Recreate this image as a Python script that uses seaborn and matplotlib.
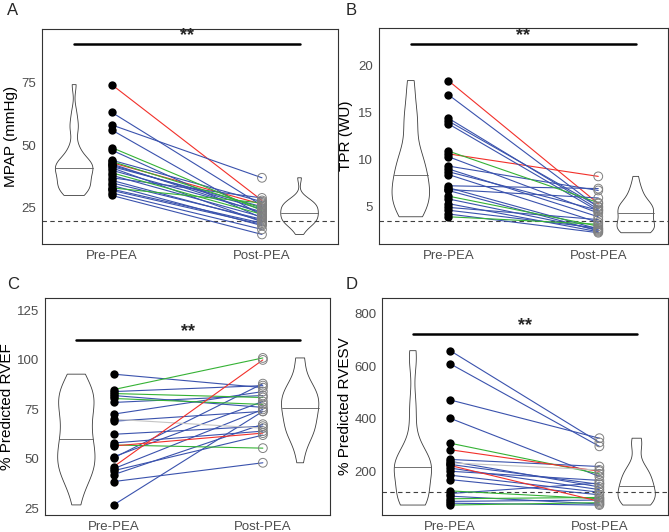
import numpy as np
import pandas as pd
import seaborn as sns
import matplotlib.pyplot as plt

sns.set_style("white")
plt.rcParams["font.family"] = ["Liberation Sans", "DejaVu Sans"]

phases = ["Pre-PEA", "Post-PEA"]

# A: MPAP (mmHg)
mpap_pre = [74, 63, 58, 56, 49, 48, 44, 43.5, 43, 42.5, 42, 41.5, 41, 40, 39, 38, 37, 36, 35, 34, 33, 32.5, 32, 31, 30]
mpap_post = [28, 26, 37, 22, 24, 21, 27.5, 25, 26.5, 23, 24.5, 25.5, 19.5, 23.5, 22.5, 21.5, 29, 20, 20.5, 18, 27, 19, 18.5, 16.5, 14.5]
mpap_grp = ["2", "1", "1", "1", "3", "1", "1", "3", "2", "1", "1", "1", "1", "1", "3", "1", "1", "1", "1", "1", "3", "1", "1", "1", "1"]

# B: TPR (WU)
tpr_pre = [18.4, 16.9, 14.4, 14.1, 13.8, 10.9, 10.6, 10.3, 9.3, 9.0, 8.7, 8.4, 7.2, 7.0, 6.8, 6.7, 6.1, 5.8, 5.3, 4.9, 4.6, 4.2, 3.9]
tpr_post = [5.3, 4.9, 4.7, 5.0, 4.5, 5.4, 8.2, 4.3, 6.7, 3.9, 4.6, 3.3, 6.9, 2.6, 5.9, 2.4, 2.9, 2.5, 2.3, 3.6, 2.7, 2.2, 3.1]
tpr_grp = ["2", "1", "1", "1", "1", "3", "2", "1", "1", "1", "1", "1", "1", "1", "1", "1", "3", "1", "1", "1", "1", "1", "3"]

# C: % predicted RVEF
rvef_pre = [92.8, 85, 84, 83, 82, 80.5, 78.5, 72.6, 70, 69, 62.4, 58, 57, 56.5, 51, 50.5, 46, 45, 44, 42, 38.5, 26.7]
rvef_post = [86, 101, 87, 81, 76, 77.5, 82, 84, 65.5, 74, 66.5, 64, 55.4, 63, 79, 88, 100, 75, 62, 67.5, 48, 74]
rvef_grp = ["1", "3", "1", "3", "1", "3", "1", "1", "4", "1", "1", "1", "3", "2", "1", "1", "2", "1", "1", "1", "1", "1"]

# D: % predicted RVESV
rvesv_pre = [660, 610, 472, 402, 307, 282, 245, 238, 232, 226, 222, 212, 200, 185, 168, 125, 115, 105, 95, 85, 78, 71]
rvesv_post = [310, 295, 326, 180, 190, 200, 218, 140, 205, 150, 85, 130, 165, 120, 110, 95, 155, 75, 100, 90, 71, 80]
rvesv_grp = ["1", "1", "1", "1", "3", "2", "1", "1", "4", "1", "2", "1", "1", "1", "1", "3", "1", "1", "3", "1", "1", "3"]

ylabels = ["MPAP (mmHg)", "TPR (WU)", "% Predicted RVEF", "% Predicted RVESV"]
letters = ["A", "B", "C", "D"]
yticks = [[25, 50, 75], [5, 10, 15, 20], [25, 50, 75, 100, 125], [200, 400, 600, 800]]
thresholds = [20, 3.5, None, 120]
sig_levels = [90, 22.3, 110, 725]

pal = {"1": "#3a52ad", "2": "#f2302a", "3": "#35b235", "4": "#c4c4c4"}
xpos = {"Pre-PEA": 1, "Post-PEA": 2}
vpos = {"Pre-PEA": 0.75, "Post-PEA": 2.25}

W, H = 669, 532
# panel boxes in pixels: left, top, right, bottom
boxes = [(42, 29, 338, 244), (379, 28, 668, 244), (45, 298, 330, 515), (382, 298, 668, 515)]
ylims = [(10.7, 96.1), (1.0, 24), (21.6, 131.3), (33, 861)]
xlims = [(0.536, 2.506), (0.538, 2.465), (0.54, 2.45), (0.543, 2.46)]
letter_xy = [(7, 3), (346, 3), (7, 277), (346, 277)]
ylab_x = [-0.081, -0.09, -0.110, -0.104]
label_pad = [1.5, 1.5, 1.0, 1.0]


def long_table(pre, post, grp):
    n = len(pre)
    df = pd.DataFrame({
        "id": list(range(n)) * 2,
        "phase": [phases[0]] * n + [phases[1]] * n,
        "value": list(pre) + list(post),
        "group": list(grp) * 2,
    })
    df["xpos"] = df["phase"].map(xpos)
    df["vpos"] = df["phase"].map(vpos)
    return df


def nrd0_factor(v):
    v = np.asarray(v, float)
    sd = v.std(ddof=1)
    q75, q25 = np.percentile(v, [75, 25])
    bw = 0.9 * min(sd, (q75 - q25) / 1.34) * len(v) ** -0.2
    return bw / sd


tables = [long_table(mpap_pre, mpap_post, mpap_grp),
          long_table(tpr_pre, tpr_post, tpr_grp),
          long_table(rvef_pre, rvef_post, rvef_grp),
          long_table(rvesv_pre, rvesv_post, rvesv_grp)]

fig = plt.figure(figsize=(W / 100, H / 100), dpi=100)

for k, df in enumerate(tables):
    l, t, r, b = boxes[k]
    ax = fig.add_axes([l / W, 1 - b / H, (r - l) / W, (b - t) / H])

    # violins with a median line
    for ph in phases:
        sub = df[df["phase"] == ph]
        n0 = len(ax.lines)
        sns.violinplot(data=sub, x="vpos", y="value", native_scale=True, orient="x",
                       cut=0, density_norm="width", width=0.25, inner="quart",
                       fill=False, color="#3c3c3c", linewidth=0.6,
                       bw_method=nrd0_factor(sub["value"]), ax=ax)
        new = list(ax.lines[n0:])
        for i, ln in enumerate(new):
            if i == 1:
                ln.set_linestyle("-")
                ln.set_color("#5a5a5a")
            else:
                ln.remove()

    if thresholds[k] is not None:
        ax.axhline(thresholds[k], ls=(0, (4, 3)), color="#404040", lw=0.8, zorder=1)

    sns.lineplot(data=df, x="xpos", y="value", units="id", estimator=None,
                 hue="group", palette=pal, linewidth=0.8, legend=False, ax=ax, zorder=2)

    sns.scatterplot(data=df[df["phase"] == "Pre-PEA"], x="xpos", y="value",
                    color="black", s=36, linewidth=0, ax=ax, zorder=3)
    sns.scatterplot(data=df[df["phase"] == "Post-PEA"], x="xpos", y="value",
                    color="#7a7a7a", facecolor="none", edgecolor="#808080",
                    s=40, linewidth=0.7, ax=ax, zorder=3)

    # significance bar
    ax.plot([vpos["Pre-PEA"], vpos["Post-PEA"]], [sig_levels[k]] * 2, color="black", lw=1.8)
    ax.text(1.5, sig_levels[k], "**", ha="center", va="bottom", fontsize=13, fontweight="bold")

    ax.set_xlim(*xlims[k])
    ax.set_ylim(*ylims[k])
    ax.set_xticks([1, 2])
    ax.set_xticklabels(phases)
    ax.set_yticks(yticks[k])
    ax.set_xlabel("")
    ax.set_ylabel(ylabels[k], fontsize=11, color="black")
    ax.yaxis.set_label_coords(ylab_x[k], 0.5)
    ax.tick_params(direction="out", length=3, width=0.6, color="#333333",
                   labelcolor="#4d4d4d", labelsize=9.5, pad=label_pad[k])
    for s in ax.spines.values():
        s.set_visible(True)
        s.set_color("#333333")
        s.set_linewidth(0.8)

    lx, ly = letter_xy[k]
    fig.text(lx / W, 1 - ly / H, letters[k], fontsize=12, ha="left", va="top")

fig.savefig("out.png", dpi=100)
